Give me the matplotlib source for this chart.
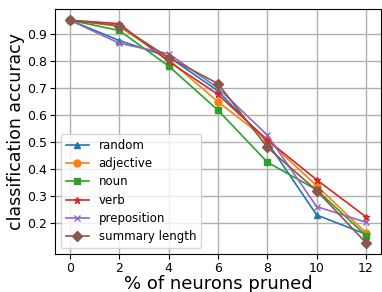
import matplotlib
matplotlib.use("Agg")
import matplotlib.pyplot as plt

pruned = [0, 2, 4, 6, 8, 10, 12]

random_acc = [0.95, 0.875, 0.815, 0.689, 0.500, 0.231, 0.160]
adjective = [0.95, 0.927, 0.805, 0.649, 0.508, 0.339, 0.165]
noun = [0.95, 0.912, 0.781, 0.618, 0.426, 0.324, 0.155]
verb = [0.95, 0.937, 0.798, 0.676, 0.508, 0.361, 0.224]
preposition = [0.95, 0.865, 0.826, 0.700, 0.526, 0.262, 0.204]
summary_length = [0.95, 0.930, 0.812, 0.716, 0.481, 0.321, 0.128]

series = [
    ("random", random_acc, "^"),
    ("adjective", adjective, "o"),
    ("noun", noun, "s"),
    ("verb", verb, "*"),
    ("preposition", preposition, "x"),
    ("summary length", summary_length, "D"),
]

fig, ax = plt.subplots(figsize=(3.82, 2.92), dpi=100)
fig.subplots_adjust(left=0.144, right=0.997, top=0.969, bottom=0.13)

for name, vals, m in series:
    ax.plot(pruned, vals, marker=m, markersize=5, linewidth=1.2, label=name)

ax.grid(True, color="#b0b0b0", linewidth=1)
ax.set_axisbelow(True)
ax.set_xticks(pruned)
ax.set_yticks([0.2, 0.3, 0.4, 0.5, 0.6, 0.7, 0.8, 0.9])
ax.tick_params(labelsize=9, pad=2)
ax.set_xlabel("% of neurons pruned", fontsize=13, labelpad=0)
ax.set_ylabel("classification accuracy", fontsize=12.5, labelpad=2)
ax.legend(loc="lower left", fontsize=8.5, labelspacing=0.45)

plt.savefig("out.png", dpi=100)
